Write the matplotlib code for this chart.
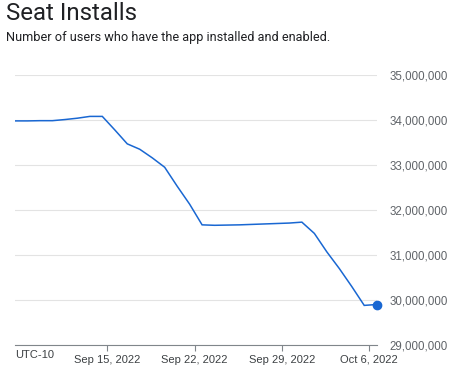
import numpy as np
import pandas as pd
import matplotlib
matplotlib.use('Agg')
import matplotlib.pyplot as plt
import matplotlib.dates as mdates
from matplotlib.ticker import FuncFormatter, FixedLocator

# daily installs, readings taken mid-afternoon local time (UTC-10)
dates = pd.date_range('2022-09-07 14:24', periods=30, freq='D')
installs = [33.98, 33.98, 33.985, 33.985, 34.01, 34.04, 34.08, 34.08,
            33.78, 33.47, 33.35, 33.16, 32.95, 32.53, 32.13, 31.67,
            31.66, 31.665, 31.67, 31.68, 31.69, 31.70, 31.71, 31.73,
            31.48, 31.07, 30.70, 30.30, 29.88, 29.90]
installs = np.array(installs) * 1e6

x_ticks = pd.to_datetime(['2022-09-15', '2022-09-22', '2022-09-29', '2022-10-06'])
y_ticks = np.arange(29e6, 35.5e6, 1e6)

blue = '#1967d2'
grey_txt = '#5f6368'

fig = plt.figure(figsize=(4.57, 3.69), dpi=100)
ax = fig.add_axes([15 / 457, 24 / 369, 361.7 / 457, 270 / 369])

ax.plot(dates, installs, color=blue, linewidth=1.1, solid_joinstyle='miter')
ax.plot(dates[-1:], installs[-1:], 'o', color=blue, markersize=6, clip_on=False, zorder=5)

ax.set_xlim(dates[0], dates[-1])
ax.set_ylim(29e6, 35e6)

ax.yaxis.set_major_locator(FixedLocator(y_ticks))
ax.yaxis.set_major_formatter(FuncFormatter(lambda v, p: f'{v:,.0f}'))
ax.yaxis.tick_right()
ax.tick_params(axis='y', length=0, pad=9, labelsize=8.3, labelcolor=grey_txt)
for lbl in ax.get_yticklabels():
    lbl.set_family('Liberation Sans')

ax.set_xticks(x_ticks)
ax.xaxis.set_major_formatter(mdates.DateFormatter('%b %-d, %Y'))
ax.tick_params(axis='x', length=4, width=0.8, color='#80868b', pad=3,
               labelsize=8, labelcolor='#3c4043')
for lbl in ax.get_xticklabels():
    lbl.set_family('Liberation Sans')

ax.grid(axis='y', color='#e3e3e3', linewidth=0.8)
ax.set_axisbelow(True)
for s in ['top', 'left', 'right']:
    ax.spines[s].set_visible(False)
ax.spines['bottom'].set_color('#80868b')
ax.spines['bottom'].set_linewidth(0.8)

fig.text(15 / 457, 1 - 355 / 369, 'UTC-10', ha='left', va='center', fontsize=8,
         color='#3c4043', family='Liberation Sans')

fig.text(6 / 457, 1 - 14 / 369, 'Seat Installs', ha='left', va='center',
         fontsize=17.3, family='Roboto', color='#202124')
fig.text(6 / 457, 1 - 38 / 369, 'Number of users who have the app installed and enabled.',
         ha='left', va='center', fontsize=9.2, family='Roboto', color='#202124')

fig.savefig('out.png', dpi=100)
